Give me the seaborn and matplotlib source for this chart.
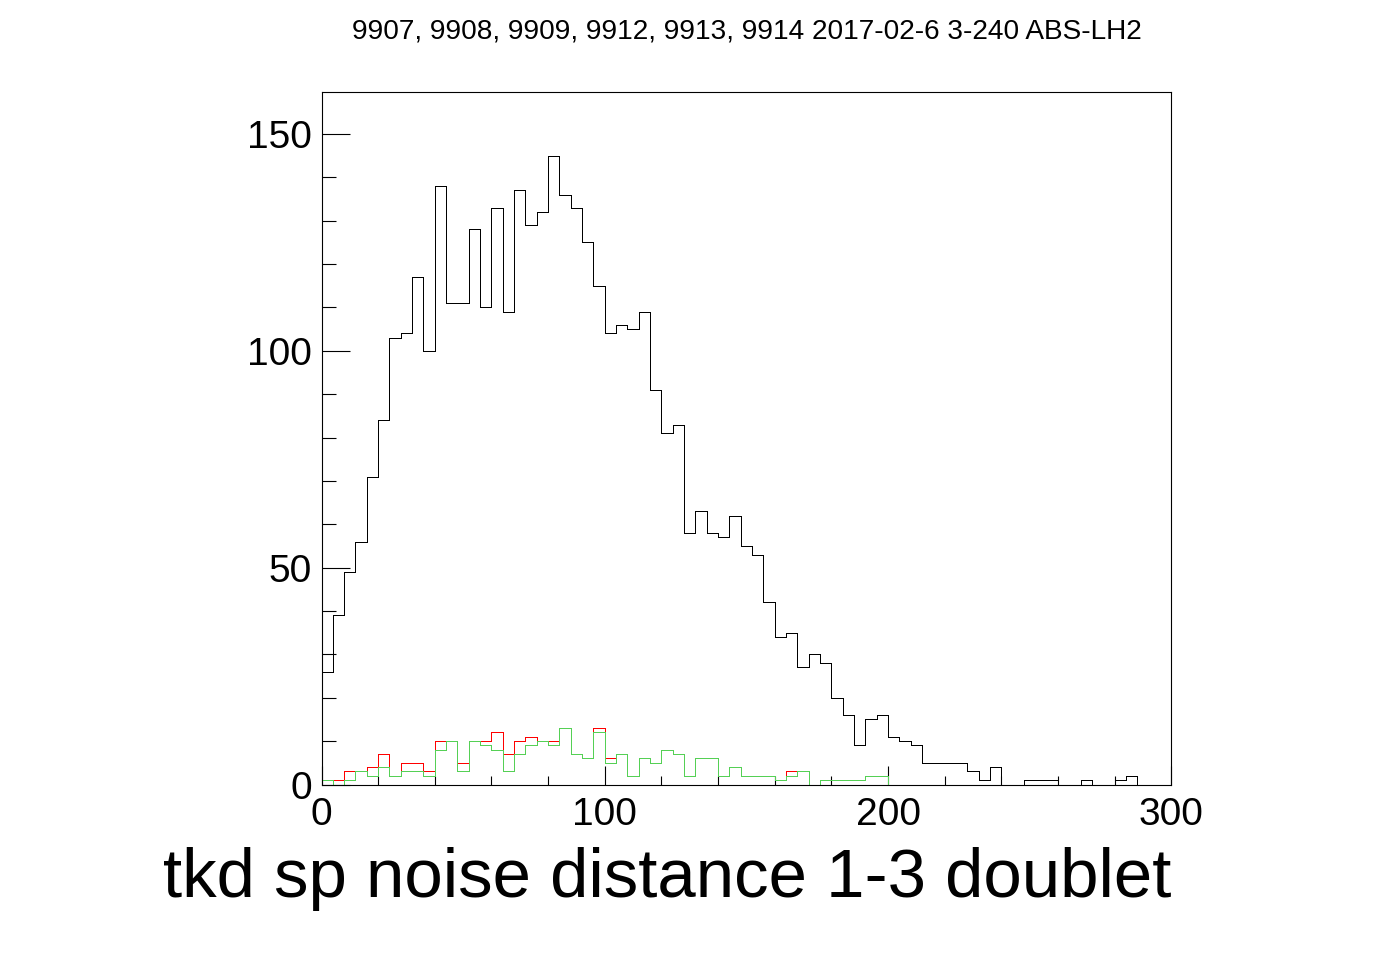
import numpy as np
import pandas as pd
import matplotlib
matplotlib.use("Agg")
import matplotlib.pyplot as plt
import seaborn as sns
from matplotlib.ticker import MultipleLocator

# ---------------- data (counts per 4-unit bin, 0..300) ----------------
bin_width = 4
x_min, x_max = 0, 300

black_counts = [26, 39, 49, 56, 71, 84, 103, 104, 117, 100,
                138, 111, 111, 128, 110, 133, 109, 137, 129, 132,
                145, 136, 133, 125, 115, 104, 106, 105, 109, 91,
                81, 83, 58, 63, 58, 57, 62, 55, 53, 42,
                34, 35, 27, 30, 28, 20, 16, 9, 15, 16,
                11, 10, 9, 5, 5, 5, 5, 3, 1, 4,
                0, 0, 1, 1, 1, 0, 0, 1, 0, 0,
                1, 2, 0, 0, 0]

red_counts = [1, 1, 3, 3, 4, 7, 2, 5, 5, 3,
              10, 10, 5, 10, 10, 12, 7, 10, 11, 10,
              10, 13, 7, 6, 13, 6, 7, 2, 6, 5,
              8, 7, 2, 6, 6, 2, 4, 2, 2, 2,
              1, 3, 3, 0, 1, 1, 1, 1, 2, 2,
              0, 0, 0, 0, 0, 0, 0, 0, 0, 0,
              0, 0, 0, 0, 0, 0, 0, 0, 0, 0,
              0, 0, 0, 0, 0]

green_counts = [1, 0, 1, 3, 2, 4, 2, 3, 3, 2,
                8, 10, 3, 10, 9, 8, 3, 7, 9, 10,
                9, 13, 7, 6, 12, 5, 7, 2, 6, 5,
                8, 7, 2, 6, 6, 2, 4, 2, 2, 2,
                1, 2, 3, 0, 1, 1, 1, 1, 2, 2,
                0, 0, 0, 0, 0, 0, 0, 0, 0, 0,
                0, 0, 0, 0, 0, 0, 0, 0, 0, 0,
                0, 0, 0, 0, 0]

title_text = "9907, 9908, 9909, 9912, 9913, 9914 2017-02-6 3-240 ABS-LH2"
xlabel_text = "tkd sp noise distance 1-3 doublet"
x_major_ticks = [0, 100, 200, 300]
y_major_ticks = [0, 50, 100, 150]

# ---------------- build table ----------------
edges = [float(e) for e in np.arange(x_min, x_max + bin_width, bin_width)]
centers = [e + bin_width / 2 for e in edges[:-1]]
n = len(centers)
df = pd.DataFrame({
    "x": centers * 3,
    "w": [float(v) for v in black_counts + red_counts + green_counts],
    "series": ["black"] * n + ["red"] * n + ["green"] * n,
})

# ---------------- style ----------------
sns.set_theme(style="ticks")
plt.rcParams["font.family"] = ["Liberation Sans", "DejaVu Sans"]

W, H, DPI = 1396, 972, 100
fig = plt.figure(figsize=(W / DPI, H / DPI), dpi=DPI, facecolor="white")
ax_l, ax_r, ax_t, ax_b = 321.5, 1171.3, 92.3, 784.5
ax = fig.add_axes([ax_l / W, 1 - ax_b / H, (ax_r - ax_l) / W, (ax_b - ax_t) / H])
ax.set_facecolor("white")

colors = {"black": "black", "red": "#ff0000", "green": "#55d055"}
for name in ["black", "red", "green"]:
    sub = df[df["series"] == name].reset_index(drop=True)
    n_before = len(ax.lines)
    sns.histplot(data=sub, x="x", weights="w", bins=edges, element="step",
                 fill=False, color=colors[name], linewidth=0.55, ax=ax)
    for ln in ax.lines[n_before:]:
        ln.set_antialiased(False)
        ln.set_alpha(1.0)
        ln.set_color(colors[name])
    for coll in ax.collections:
        coll.set_antialiased(False)

ax.set_xlim(x_min, x_max)
ax.set_ylim(0, 159.6)

for s in ax.spines.values():
    s.set_visible(True)
    s.set_linewidth(0.8)
    s.set_color("black")

ax.set_xticks(x_major_ticks)
ax.set_yticks(y_major_ticks)
ax.xaxis.set_minor_locator(MultipleLocator(20))
ax.yaxis.set_minor_locator(MultipleLocator(10))
ax.tick_params(axis="both", which="both", direction="in", color="black",
               width=0.8, top=False, right=False, labelsize=28, labelcolor="black")
ax.tick_params(axis="y", which="major", length=20, pad=7)
ax.tick_params(axis="y", which="minor", length=10)
ax.tick_params(axis="x", which="major", length=13.5, pad=9)
ax.tick_params(axis="x", which="minor", length=6.5)

ax.set_ylabel("")
ax.set_xlabel(xlabel_text, fontsize=49.7, color="black", loc="right")
ax.xaxis.label.set_va("baseline")
ax.xaxis.set_label_coords(1.0, -(896.7 - ax_b) / (ax_b - ax_t))

ax.set_title(title_text, fontsize=20.2, color="black",
             y=1 + (ax_t - 38.3) / (ax_b - ax_t), pad=0)

fig.savefig("out.png", dpi=DPI, facecolor="white")
